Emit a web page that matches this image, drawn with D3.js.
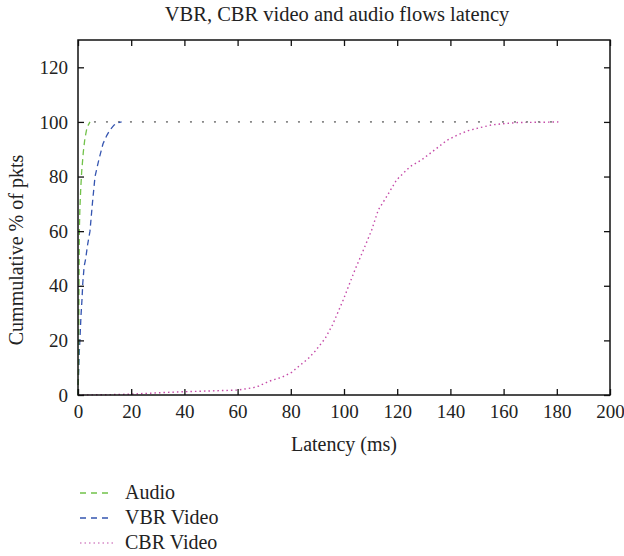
<!DOCTYPE html>
<html>
<head>
<meta charset="utf-8">
<script src="https://cdn.jsdelivr.net/npm/d3@7"></script>
<style>
  html, body { margin: 0; padding: 0; background: #fff; }
</style>
</head>
<body>
<svg id="chart" width="624" height="556"></svg>
<script>
// Latency CDFs (ms, cumulative % of packets)
const audioLatency = [0, 0.2, 0.3, 0.4, 0.5, 0.7, 1.0, 1.4, 2.0, 2.6, 3.4, 4.5];
const audioPct     = [0, 10, 25, 45, 60, 68, 75, 82, 89, 94, 98, 100];

const vbrLatency = [0, 0.1, 0.3, 0.5, 0.8, 1.1, 1.5, 1.8, 2.3, 2.9, 3.6, 4.5, 5.4, 6.4, 7.8, 9.4, 10.8, 12.0, 13.5, 14.8, 16.4];
const vbrPct     = [0, 4, 10, 16, 22, 28.6, 35, 41, 47, 50, 55, 60, 70, 80, 86, 92, 95, 97, 98.8, 99.6, 100];

const cbrLatency = [0, 10, 19.5, 30, 39.5, 50, 60, 66, 68, 72, 74, 76.6, 80.3, 83, 86.6, 89.1, 92.9, 95.7, 99.7, 104.1, 107.3, 110.4, 112.9, 116, 119.8, 124.8, 129.2, 135.6, 138.6, 142.6, 146.7, 151.1, 155.5, 160.5, 165.5, 175.6, 180.6];
const cbrPct     = [0, 0.1, 0.3, 0.8, 1.2, 1.5, 1.8, 2.7, 3.3, 5.1, 5.7, 6.5, 8.3, 10.5, 13.4, 16, 20.7, 25.7, 34.8, 45.8, 53.1, 60.4, 67.8, 72.6, 78.8, 83.6, 86.1, 90.9, 93.2, 95.2, 96.8, 97.9, 98.9, 99.4, 99.8, 99.9, 100];

// Saturated tail shared by the fast flows
const tailLatency = [6, 180.6];
const tailPct     = [100, 100];

const xTicks = [0, 20, 40, 60, 80, 100, 120, 140, 160, 180, 200];
const yTicks = [0, 20, 40, 60, 80, 100, 120];

const seriesNames = ["Audio", "VBR Video", "CBR Video"];

const FONT = "'Liberation Serif', 'Times New Roman', serif";
const INK = "#222";

const svg = d3.select("#chart");
const plotLeft = 78, plotRight = 610, plotTop = 40, plotBottom = 395;

const x = d3.scaleLinear().domain([0, 200]).range([plotLeft, plotRight]);
const y = d3.scaleLinear().domain([0, 130]).range([plotBottom, plotTop]);

const pts = (xs, ys) => xs.map((v, i) => [v, ys[i]]);
const line = d3.line().x(d => x(d[0])).y(d => y(d[1]));

const plot = svg.append("g");

// CBR video (dotted magenta)
plot.append("path")
  .attr("d", line(pts(cbrLatency, cbrPct)))
  .attr("fill", "none").attr("stroke", "#c54aa8").attr("stroke-width", 1.4)
  .attr("stroke-dasharray", "1.5,3");

// Tail at 100 %
plot.append("path")
  .attr("d", line(pts(tailLatency, tailPct)))
  .attr("fill", "none").attr("stroke", "#888").attr("stroke-width", 1.6)
  .attr("stroke-dasharray", "2,10");

// VBR video (dashed blue)
plot.append("path")
  .attr("d", line(pts(vbrLatency, vbrPct)))
  .attr("fill", "none").attr("stroke", "#3555b0").attr("stroke-width", 1.3)
  .attr("stroke-dasharray", "6,4");

// Audio (dashed green)
plot.append("path")
  .attr("d", line(pts(audioLatency, audioPct)))
  .attr("fill", "none").attr("stroke", "#72c24a").attr("stroke-width", 1.3)
  .attr("stroke-dasharray", "6,4");

// Axes with inward ticks on all four sides
const tickStyle = g => {
  g.select(".domain").remove();
  g.selectAll(".tick line").attr("stroke", "#111").attr("stroke-width", 1.3);
  g.selectAll(".tick text").attr("font-size", 19).attr("font-family", FONT).attr("fill", INK);
};

svg.append("g").attr("transform", `translate(0,${plotBottom})`)
  .call(d3.axisBottom(x).tickValues(xTicks).tickSize(-6).tickPadding(10).tickFormat(d3.format("d")))
  .call(tickStyle);
svg.append("g").attr("transform", `translate(0,${plotTop})`)
  .call(d3.axisTop(x).tickValues(xTicks).tickSize(-6).tickFormat(""))
  .call(tickStyle);
svg.append("g").attr("transform", `translate(${plotLeft},0)`)
  .call(d3.axisLeft(y).tickValues(yTicks).tickSize(-6).tickPadding(10).tickFormat(d3.format("d")))
  .call(tickStyle);
svg.append("g").attr("transform", `translate(${plotRight},0)`)
  .call(d3.axisRight(y).tickValues(yTicks).tickSize(-6).tickFormat(""))
  .call(tickStyle);

// Frame
svg.append("rect")
  .attr("x", plotLeft).attr("y", plotTop).attr("width", plotRight - plotLeft).attr("height", plotBottom - plotTop)
  .attr("fill", "none").attr("stroke", "#111").attr("stroke-width", 1.5);

// Title and axis labels
const label = (sel) => sel.attr("font-family", FONT).attr("fill", INK).attr("font-size", 20);
svg.append("text").attr("x", 337).attr("y", 21)
  .attr("text-anchor", "middle").call(label).attr("font-size", 20.5)
  .text("VBR, CBR video and audio flows latency");
svg.append("text").attr("x", (plotLeft + plotRight) / 2).attr("y", 451)
  .attr("text-anchor", "middle").call(label)
  .text("Latency (ms)");
svg.append("text").attr("transform", "translate(23,250) rotate(-90)")
  .attr("text-anchor", "middle").call(label)
  .text("Cummulative % of pkts");

// Legend
const legendStyles = [
  { color: "#72c24a", dash: "6,5", width: 1.3 },
  { color: "#3555b0", dash: "6,5", width: 1.3 },
  { color: "#d68ac8", dash: "1.5,3", width: 1.3 }
];
const legend = svg.append("g");
seriesNames.forEach((name, i) => {
  const ly = 493 + i * 25;
  legend.append("line")
    .attr("x1", 80).attr("x2", 113).attr("y1", ly).attr("y2", ly)
    .attr("stroke", legendStyles[i].color).attr("stroke-width", legendStyles[i].width)
    .attr("stroke-dasharray", legendStyles[i].dash);
  legend.append("text").attr("x", 125).attr("y", ly + 6)
    .call(label).text(name);
});
</script>
</body>
</html>
